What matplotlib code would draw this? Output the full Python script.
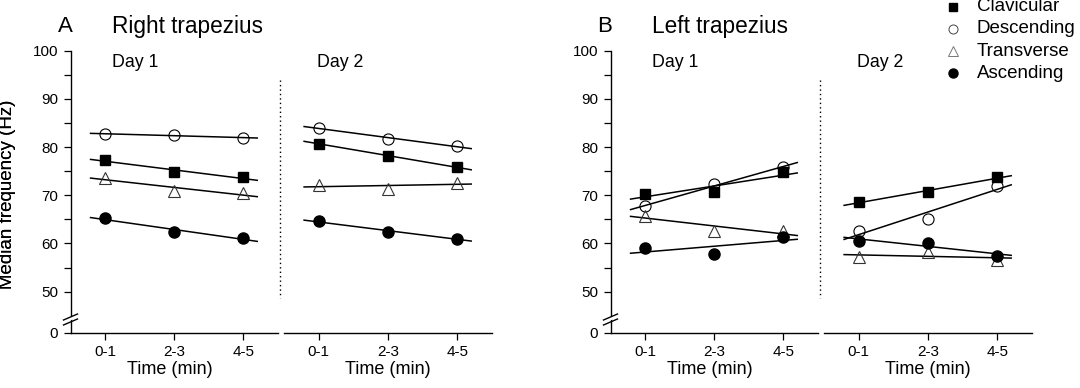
import numpy as np
import matplotlib.pyplot as plt
from matplotlib.lines import Line2D

plt.rcParams['font.family'] = ['Liberation Sans', 'DejaVu Sans']

W, H = 1080, 388

times = ['0-1', '2-3', '4-5']
muscles = ['Clavicular', 'Descending', 'Transverse', 'Ascending']

# rows: Clavicular, Descending, Transverse, Ascending
right_day1 = [[77.3, 74.8, 73.7],
              [82.7, 82.5, 81.9],
              [73.6, 70.9, 70.4],
              [65.2, 62.4, 61.1]]
right_day2 = [[80.7, 78.2, 75.8],
              [84.0, 81.7, 80.2],
              [72.1, 71.4, 72.6],
              [64.6, 62.4, 61.0]]
left_day1 = [[70.3, 70.7, 74.8],
             [67.7, 72.3, 75.8],
             [65.8, 62.6, 62.5],
             [59.0, 57.9, 61.4]]
left_day2 = [[68.6, 70.7, 73.7],
             [62.6, 65.0, 72.0],
             [57.2, 58.2, 56.6],
             [60.6, 60.1, 57.5]]

styles = [dict(marker='s', mfc='black', mec='black', ms=7),
          dict(marker='o', mfc='none', mec='black', ms=8, mew=0.8),
          dict(marker='^', mfc='none', mec='#333333', ms=8, mew=0.8),
          dict(marker='o', mfc='black', mec='black', ms=8)]
legend_styles = [dict(marker='s', mfc='black', mec='black', ms=6),
                 dict(marker='o', mfc='none', mec='#444444', ms=6.5, mew=0.7),
                 dict(marker='^', mfc='none', mec='#777777', ms=6.5, mew=0.7),
                 dict(marker='o', mfc='black', mec='black', ms=6.5)]

YBOT = 41.43  # position of the "0" label below the axis break
AX_TOP, AX_BOT = 50.7, 333

fig = plt.figure(figsize=(W / 100, H / 100), dpi=100)


def fx(px):
    return px / W


def fy(py):
    return 1 - py / H


def make_axes(x0, x1, data, first, label_x):
    ax = fig.add_axes([fx(x0), fy(AX_BOT), fx(x1 - x0), (AX_BOT - AX_TOP) / H])
    x = np.arange(len(times))
    xl = np.array([-0.21, 2.2])
    for vals, st in zip(data, styles):
        k, b = np.polyfit(x, vals, 1)
        ax.plot(xl, k * xl + b, color='black', lw=1.1, zorder=2)
        ax.plot(x, vals, ls='none', zorder=3, **st)
    ax.set_xlim(-0.5, 2.5)
    ax.set_ylim(YBOT, 100)
    ax.set_xticks(x)
    ax.set_xticklabels(times)
    for s in ['top', 'right']:
        ax.spines[s].set_visible(False)
    ax.tick_params(direction='out', length=5, width=0.9, labelsize=11,
                   colors='black', pad=4)
    ax.tick_params(axis='y', which='minor', direction='out', length=5, width=0.9)
    if first:
        ax.set_yticks([YBOT, 50, 60, 70, 80, 90, 100])
        ax.set_yticklabels(['0', '50', '60', '70', '80', '90', '100'])
        ax.set_yticks([55, 65, 75, 85, 95], minor=True)
        ax.set_ylabel('Median frequency (Hz)', fontsize=13.5)
        ax.yaxis.set_label_coords((16 - x0) / (x1 - x0), 0.493)
    else:
        ax.spines['left'].set_visible(False)
        ax.set_yticks([])
    for sp in ax.spines.values():
        sp.set_linewidth(1.0)
    fig.text(fx(label_x), fy(374), 'Time (min)', fontsize=13,
             ha='center', va='baseline')
    return ax


def break_marks(xa):
    fig.add_artist(plt.Polygon([[fx(xa - 3), fy(322)], [fx(xa + 3), fy(319)],
                                [fx(xa + 3), fy(316)], [fx(xa - 3), fy(319)]],
                               closed=True, fc='white', ec='none', zorder=5))
    for dy in (0, 5):
        fig.add_artist(Line2D([fx(xa - 7), fx(xa + 7)],
                              [fy(320 + dy), fy(314 + dy)],
                              color='black', lw=1.0, zorder=6))


panels = [(0, 'A', 'Right trapezius', right_day1, right_day2),
          (540, 'B', 'Left trapezius', left_day1, left_day2)]

for off, letter, title, d1, d2 in panels:
    make_axes(off + 70.5, off + 278, d1, True, off + 170)
    make_axes(off + 284, off + 492, d2, False, off + 388)
    break_marks(off + 70.5)
    fig.add_artist(Line2D([fx(off + 280), fx(off + 280)], [fy(79.5), fy(298)],
                          color='black', lw=1.0, ls=(0, (1, 2.2))))
    fig.text(fx(off + 65), fy(32), letter, fontsize=16, ha='center', va='baseline')
    fig.text(fx(off + 112), fy(33), title, fontsize=16.3, ha='left', va='baseline')
    fig.text(fx(off + 112), fy(67), 'Day 1', fontsize=12.8, ha='left', va='baseline')
    fig.text(fx(off + 317), fy(67), 'Day 2', fontsize=12.8, ha='left', va='baseline')

# legend
for i, (name, st) in enumerate(zip(muscles, legend_styles)):
    yc = 6.7 + 22.2 * i
    fig.add_artist(Line2D([fx(953)], [fy(yc)], ls='none', **st))
    fig.text(fx(976.5), fy(yc), name, fontsize=13.5, ha='left', va='center')

fig.savefig('out.png', dpi=100)
